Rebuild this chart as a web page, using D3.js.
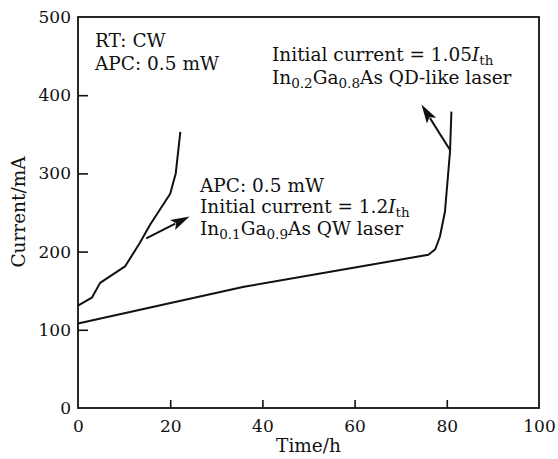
<!DOCTYPE html>
<html>
<head>
<meta charset="utf-8">
<script src="https://cdn.jsdelivr.net/npm/d3@7/dist/d3.min.js"></script>
<style>
  body { margin: 0; background: #fff; }
  svg text { font-family: "DejaVu Serif", serif; fill: #111; }
</style>
</head>
<body>
<div id="chart"></div>
<script>
// lifetime test curves (time in h, current in mA)
var qwTime    = [0, 3, 4.8, 10.2, 13.4, 15.6, 20, 21.2, 22.2];
var qwCurrent = [131, 141, 160, 181, 211, 234, 274, 300, 353];

var qdTime    = [0, 36, 76, 77.5, 78.5, 79.6, 80.7, 81];
var qdCurrent = [108, 155, 196, 203, 219, 251, 328, 379];

var xTicks = [0, 20, 40, 60, 80, 100];
var yTicks = [0, 100, 200, 300, 400, 500];

// arrows: [tailTime, tailCurrent, tipTime, tipCurrent]
var arrows = [
    [14.8, 217, 24.2, 245],
    [80.7, 330, 74.5, 388]
];

var W = 558, H = 459;
var margin = {left: 78, top: 17, right: 19, bottom: 51};
var iw = W - margin.left - margin.right,
    ih = H - margin.top - margin.bottom;

var svg = d3.select("#chart").append("svg")
    .attr("width", W)
    .attr("height", H);

var g = svg.append("g")
    .attr("transform", "translate(" + margin.left + "," + margin.top + ")");

var x = d3.scaleLinear().domain([0, 100]).range([0, iw]);
var y = d3.scaleLinear().domain([0, 500]).range([ih, 0]);

// frame
g.append("rect")
    .attr("width", iw).attr("height", ih)
    .attr("fill", "none").attr("stroke", "#111").attr("stroke-width", 1.8);

// inward ticks, no domain line (the frame does that)
var xAxis = g.append("g")
    .attr("transform", "translate(0," + ih + ")")
    .call(d3.axisBottom(x).tickValues(xTicks).tickSize(-8).tickPadding(12));
var yAxis = g.append("g")
    .call(d3.axisLeft(y).tickValues(yTicks).tickSize(-10).tickPadding(7));

[xAxis, yAxis].forEach(function(a) {
    a.select(".domain").remove();
    a.selectAll("line").attr("stroke", "#111").attr("stroke-width", 1.6);
    a.selectAll("text").attr("font-size", "17px").attr("fill", "#111")
        .attr("font-family", null);
});
// ticks at the ends sit on the frame
xAxis.selectAll(".tick").filter(function(d){ return d === 0 || d === 100; }).select("line").remove();
yAxis.selectAll(".tick").filter(function(d){ return d === 0 || d === 500; }).select("line").remove();

var line = d3.line()
    .x(function(d){ return x(d[0]); })
    .y(function(d){ return y(d[1]); });

var qw = d3.zip(qwTime, qwCurrent),
    qd = d3.zip(qdTime, qdCurrent);

g.selectAll("path.curve")
    .data([qw, qd])
    .enter().append("path")
    .attr("class", "curve")
    .attr("d", line)
    .attr("fill", "none")
    .attr("stroke", "#111")
    .attr("stroke-width", 2)
    .attr("stroke-linejoin", "round");

// arrows with a long filled head
arrows.forEach(function(a) {
    var x0 = x(a[0]), y0 = y(a[1]), x1 = x(a[2]), y1 = y(a[3]);
    var dx = x1 - x0, dy = y1 - y0, len = Math.sqrt(dx*dx + dy*dy);
    var ux = dx / len, uy = dy / len;
    var hl = 19, hw = 5.5;
    var bx = x1 - ux * hl, by = y1 - uy * hl;
    g.append("line")
        .attr("x1", x0).attr("y1", y0).attr("x2", bx + ux * 3).attr("y2", by + uy * 3)
        .attr("stroke", "#111").attr("stroke-width", 2);
    g.append("path")
        .attr("d", "M" + x1 + "," + y1 +
            "L" + (bx - uy * hw) + "," + (by + ux * hw) +
            "L" + (bx + ux * 4) + "," + (by + uy * 4) +
            "L" + (bx + uy * hw) + "," + (by - ux * hw) + "Z")
        .attr("fill", "#111");
});

// text helper: parts are [string, kind] where kind is "", "i" (italic) or "s" (subscript)
function label(px, py, parts) {
    var t = svg.append("text")
        .attr("x", px).attr("y", py)
        .attr("font-size", "18.5px");
    var sub = false;
    parts.forEach(function(p) {
        var s = t.append("tspan").text(p[0]);
        if (p[1] === "s") {
            s.attr("font-size", "13.5px").attr("dy", sub ? 0 : 4);
            sub = true;
        } else {
            if (sub) s.attr("dy", -4);
            sub = false;
            if (p[1] === "i") s.attr("font-style", "italic");
        }
    });
    return t;
}

label(95, 47, [["RT: CW", ""]]);
label(95, 70, [["APC: 0.5 mW", ""]]);

label(272, 61, [["Initial current = 1.05", ""], ["I", "i"], ["th", "s"]]);
label(272, 84, [["In", ""], ["0.2", "s"], ["Ga", ""], ["0.8", "s"], ["As QD-like laser", ""]]);

label(200, 192, [["APC: 0.5 mW", ""]]);
label(200, 213, [["Initial current = 1.2", ""], ["I", "i"], ["th", "s"]]);
label(200, 235, [["In", ""], ["0.1", "s"], ["Ga", ""], ["0.9", "s"], ["As QW laser", ""]]);

// axis titles
svg.append("text")
    .attr("x", margin.left + iw / 2).attr("y", 452)
    .attr("text-anchor", "middle").attr("font-size", "18.5px")
    .text("Time/h");
svg.append("text")
    .attr("transform", "translate(25," + 212 + ") rotate(-90)")
    .attr("text-anchor", "middle").attr("font-size", "18.5px")
    .text("Current/mA");
</script>
</body>
</html>
